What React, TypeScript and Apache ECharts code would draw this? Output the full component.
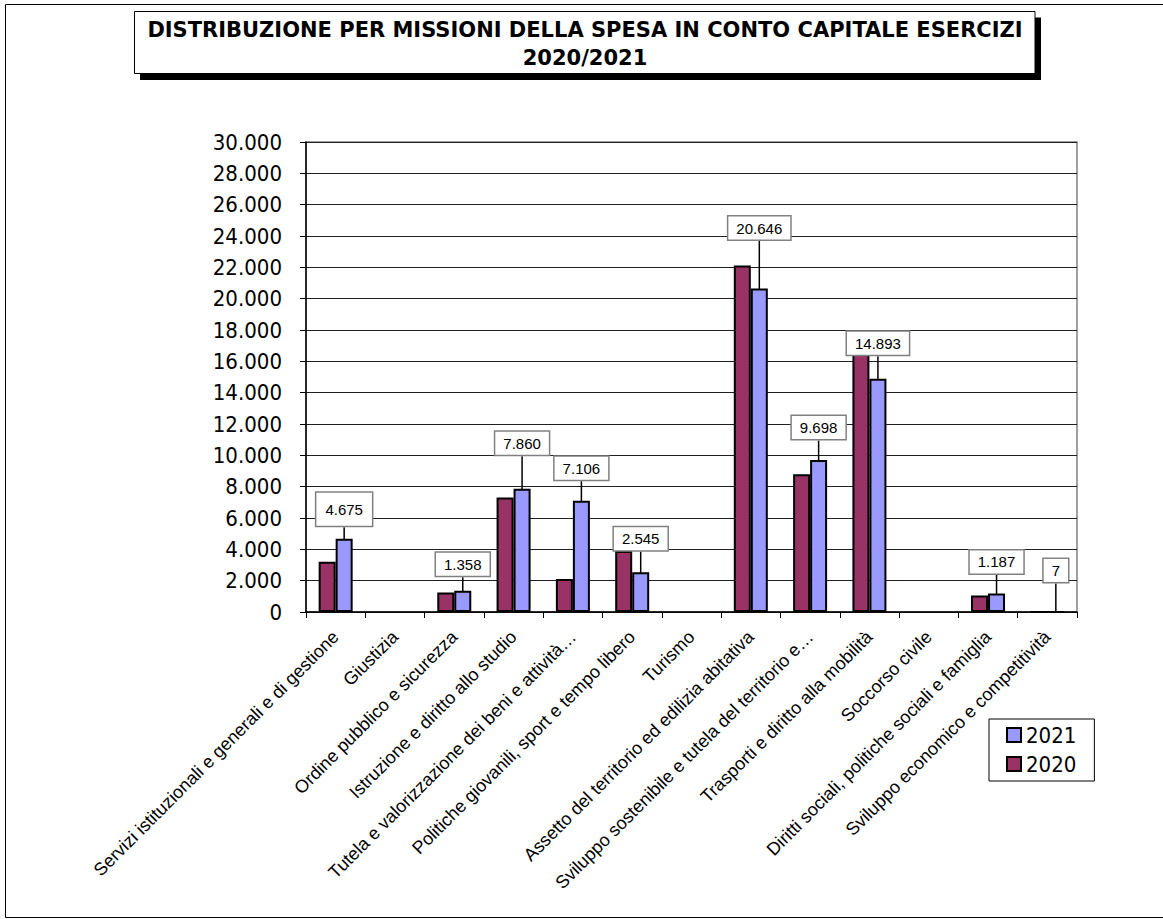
import React, { useEffect, useRef } from "react";
import * as echarts from "echarts";

const categories = [
  "Servizi istituzionali e generali e di gestione",
  "Giustizia",
  "Ordine pubblico e sicurezza",
  "Istruzione e diritto allo studio",
  "Tutela e valorizzazione dei beni e attività…",
  "Politiche giovanili, sport e tempo libero",
  "Turismo",
  "Assetto del territorio ed edilizia abitativa",
  "Sviluppo sostenibile e tutela del territorio e…",
  "Trasporti e diritto alla mobilità",
  "Soccorso civile",
  "Diritti sociali, politiche sociali e famiglia",
  "Sviluppo economico e competitività",
];

const values2020 = [3200, null, 1250, 7310, 2100, 3900, null, 22120, 8800, 16800, null, 1060, 5];
const values2021 = [4675, null, 1358, 7860, 7106, 2545, null, 20646, 9698, 14893, null, 1187, 7];

const seriesNames = ["2020", "2021"];
const legendOrder = ["2021", "2020"];

const yMin = 0;
const yMax = 30000;
const yStep = 2000;

const titleLines = ["DISTRIBUZIONE PER MISSIONI DELLA SPESA IN CONTO CAPITALE ESERCIZI", "2020/2021"];

// vertical shift of each 2021 data label (style)
const labelLift = [-8, 0, -10, -29, -16, -17, 0, -44, -16, -19, 0, -15, -24];

const fmt = (v: number) => String(Math.round(v)).replace(/\B(?=(\d{3})+(?!\d))/g, ".");

const AXIS_FONT = "'DejaVu Sans Condensed', 'DejaVu Sans', sans-serif";
const ARIAL = "'Liberation Sans', Arial, sans-serif";

export default function App() {
  const ref = useRef<HTMLDivElement>(null);

  useEffect(() => {
    if (!ref.current) return;
    const chart = echarts.init(ref.current, null, { renderer: "svg" });
    const option: any = {
      animation: false,
      backgroundColor: "#fff",
      graphic: [
        {
          type: "rect",
          shape: { x: 5.5, y: 4.5, width: 1200, height: 913 },
          style: { fill: "none", stroke: "#000", lineWidth: 1 },
          z: 0,
        },
        {
          type: "rect",
          shape: { x: 140, y: 17.5, width: 901, height: 62.5 },
          style: { fill: "#000" },
          z: 1,
        },
        {
          type: "rect",
          shape: { x: 134.5, y: 11.5, width: 900.5, height: 62 },
          style: { fill: "#fff", stroke: "#000", lineWidth: 1 },
          z: 2,
        },
        {
          type: "text",
          x: 585,
          y: 44,
          z: 3,
          style: {
            text: titleLines.join("\n"),
            textAlign: "center",
            textVerticalAlign: "middle",
            fontFamily: "'DejaVu Sans', Verdana, sans-serif",
            fontWeight: "bold",
            fontSize: 21,
            lineHeight: 28,
            fill: "#000",
          },
        },
      ],
      legend: {
        data: legendOrder,
        orient: "vertical",
        left: 989,
        top: 719,
        itemWidth: 14,
        itemHeight: 14,
        itemGap: 7,
        padding: [5, 18, 6, 17],
        borderColor: "#000",
        borderWidth: 1,
        backgroundColor: "#fff",
        icon: "rect",
        textStyle: { fontFamily: AXIS_FONT, fontSize: 22, color: "#000" },
      },
      grid: {
        left: 306,
        right: 86,
        top: 142,
        bottom: 307,
        show: true,
        borderColor: "#808080",
        borderWidth: 1.5,
        backgroundColor: "transparent",
      },
      xAxis: {
        type: "category",
        data: categories,
        axisLine: { lineStyle: { color: "#000", width: 1.5 } },
        axisTick: { show: true, length: 6, lineStyle: { color: "#000", width: 1 } },
        axisLabel: {
          interval: 0,
          rotate: 45,
          margin: 22,
          fontFamily: ARIAL,
          fontSize: 18,
          color: "#000",
        },
      },
      yAxis: {
        type: "value",
        min: yMin,
        max: yMax,
        interval: yStep,
        axisLine: { show: true, lineStyle: { color: "#000", width: 1.5 } },
        axisTick: { show: true, length: 6, lineStyle: { color: "#000" } },
        splitLine: { lineStyle: { color: "#202020", width: 1 } },
        axisLabel: {
          margin: 24,
          fontFamily: AXIS_FONT,
          fontSize: 22,
          color: "#000",
          formatter: (v: number) => fmt(v),
        },
      },
      series: [
        {
          name: seriesNames[0],
          type: "bar",
          data: values2020,
          barWidth: 17,
          barGap: "0%",
          itemStyle: { color: "#993366", borderColor: "#000", borderWidth: 2 },
        },
        {
          name: seriesNames[1],
          type: "bar",
          data: values2021.map((v, i) => (i === 0 ? { value: v, label: { padding: [9, 9] } } : v)),
          barWidth: 17,
          barGap: "0%",
          itemStyle: { color: "#9999FF", borderColor: "#000", borderWidth: 2 },
          label: {
            show: true,
            position: "top",
            distance: 5,
            formatter: (p: any) => (p.value == null ? "" : fmt(p.value)),
            fontFamily: ARIAL,
            fontSize: 15,
            color: "#000",
            backgroundColor: "#fff",
            borderColor: "#808080",
            borderWidth: 1.5,
            padding: [4, 8],
          },
          labelLine: { show: true, lineStyle: { color: "#000", width: 1.5 } },
          labelLayout: (params: any) => ({ dy: labelLift[params.dataIndex] || 0 }),
        },
      ],
    };
    chart.setOption(option);
    return () => chart.dispose();
  }, []);

  return (
    <div
      ref={ref}
      style={{ position: "fixed", left: 0, top: 0, width: 1163, height: 919, background: "#fff" }}
    />
  );
}
